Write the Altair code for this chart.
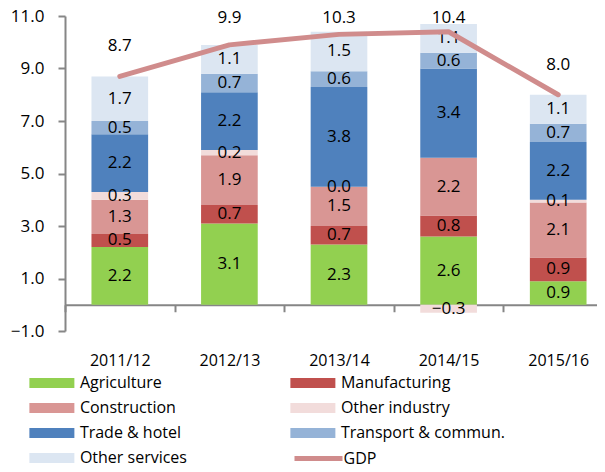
import altair as alt
import pandas as pd

years = ["2011/12", "2012/13", "2013/14", "2014/15", "2015/16"]
sectors = ["Agriculture", "Manufacturing", "Construction", "Other industry",
           "Trade & hotel", "Transport & commun.", "Other services"]
colors = ["#92D050", "#C0504D", "#D99694", "#F2DCDB", "#4F81BD", "#95B3D7", "#DCE6F2"]
# legend reading order (filled column by column): left column, then right column
legend_order = ["Agriculture", "Construction", "Trade & hotel", "Other services",
                "Manufacturing", "Other industry", "Transport & commun."]

agriculture = [2.2, 3.1, 2.3, 2.6, 0.9]
manufacturing = [0.5, 0.7, 0.7, 0.8, 0.9]
construction = [1.3, 1.9, 1.5, 2.2, 2.1]
other_industry = [0.3, 0.2, 0.0, -0.3, 0.1]
trade_hotel = [2.2, 2.2, 3.8, 3.4, 2.2]
transport = [0.5, 0.7, 0.6, 0.6, 0.7]
other_services = [1.7, 1.1, 1.5, 1.1, 1.1]
gdp = [8.7, 9.9, 10.3, 10.4, 8.0]

series = [agriculture, manufacturing, construction, other_industry,
          trade_hotel, transport, other_services]

rows = []
for k, (name, vals) in enumerate(zip(sectors, series)):
    for y, v in zip(years, vals):
        rows.append({"year": y, "sector": name, "value": v, "idx": k})
df = pd.DataFrame(rows)
df_gdp = pd.DataFrame({"year": years, "gdp": gdp, "series": ["GDP"] * len(years)})

color_map = dict(zip(sectors, colors))
legend_colors = [color_map[s] for s in legend_order]

FONT = "Open Sans"
AX = "#868686"

xscale = alt.Scale(domain=years, range=[0, 548], paddingInner=0, paddingOuter=0)
yscale = alt.Scale(domain=[-1, 11], nice=False, zero=False)

x_enc = alt.X("year:N", scale=xscale, sort=years,
              axis=alt.Axis(title=None, orient="bottom", offset=-26.25, tickBand="extent",
                            tickSize=7, tickColor=AX, tickWidth=2, domainColor=AX, domainWidth=2,
                            labelAngle=0, labelPadding=41, labelFont=FONT, labelFontSize=16,
                            labelColor="#000000"))
y_axis = alt.Axis(title=None, values=[-1, 1, 3, 5, 7, 9, 11], format=".1f", grid=False,
                  tickSize=7, tickColor=AX, tickWidth=2, domainColor=AX, domainWidth=2,
                  labelPadding=14, labelFont=FONT, labelFontSize=17, labelColor="#000000")

bars = alt.Chart(df).mark_bar(width=alt.RelativeBandSize(0.517)).encode(
    x=x_enc,
    y=alt.Y("sum(value):Q", scale=yscale, axis=y_axis, stack="zero"),
    color=alt.Color("sector:N", scale=alt.Scale(domain=legend_order, range=legend_colors), title=None,
                    legend=alt.Legend(orient="none", legendX=-38, legendY=359, columns=2,
                                      symbolType="M-4,-0.889H4V0.889H-4Z", symbolSize=126.5625,
                                      symbolOffset=16.875, symbolStrokeWidth=0, labelOffset=20,
                                      labelFont=FONT, labelFontSize=16, labelColor="#000000",
                                      rowPadding=9, columnPadding=101, labelLimit=300)),
    order=alt.Order("idx:Q", sort="ascending"),
)

labels = alt.Chart(df).transform_stack(
    stack="value", groupby=["year"], as_=["y0", "y1"], sort=[alt.SortField("idx", order="ascending")]
).transform_calculate(
    mid="(datum.y0 + datum.y1) / 2"
).mark_text(font=FONT, fontSize=17, color="#000000", baseline="middle").encode(
    x=alt.X("year:N", scale=xscale, sort=years),
    y=alt.Y("mid:Q", scale=yscale),
    text=alt.Text("value:Q", format=".1f"),
)

line = alt.Chart(df_gdp).mark_line(strokeWidth=5, strokeCap="round", strokeJoin="round").encode(
    x=alt.X("year:N", scale=xscale, sort=years),
    y=alt.Y("gdp:Q", scale=yscale),
    color=alt.Color("series:N", scale=alt.Scale(domain=["GDP"], range=["#D08C8C"]), title=None,
                    legend=alt.Legend(orient="none", legendX=227, legendY=434,
                                      symbolType="M-4,0H4", symbolSize=144, symbolOffset=18,
                                      symbolStrokeWidth=5, labelOffset=16.5,
                                      labelFont=FONT, labelFontSize=16, labelColor="#000000")),
)

gdp_labels = alt.Chart(df_gdp).transform_calculate(
    ly="min(datum.gdp + 1.15, 10.92)"
).mark_text(font=FONT, fontSize=17, color="#000000", baseline="middle").encode(
    x=alt.X("year:N", scale=xscale, sort=years),
    y=alt.Y("ly:Q", scale=yscale),
    text=alt.Text("gdp:Q", format=".1f"),
)

chart = alt.layer(bars, labels, line, gdp_labels).resolve_scale(color="independent").resolve_legend(
    color="independent"
).properties(
    width=532, height=315,
    autosize=alt.AutoSizeParams(type="none"),
    padding={"left": 57, "top": 8, "right": 0, "bottom": 135},
).configure_view(stroke=None)

chart.save("out.html", embed_options={"renderer": "svg", "actions": False})
